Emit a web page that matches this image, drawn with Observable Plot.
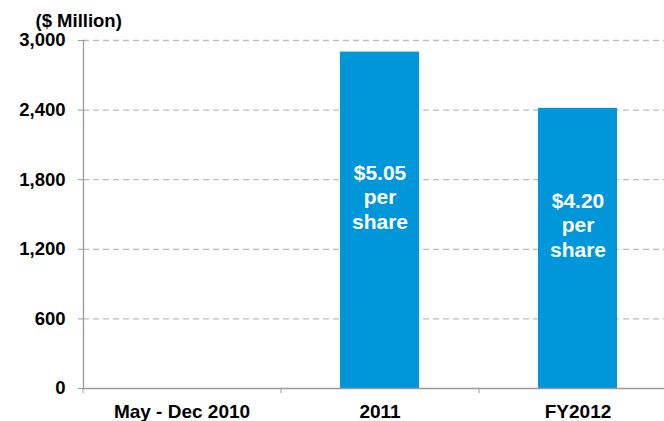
<!DOCTYPE html>
<html>
<head>
<meta charset="utf-8">
<script src="https://cdn.jsdelivr.net/npm/d3@7"></script>
<script src="https://cdn.jsdelivr.net/npm/@observablehq/plot@0.6"></script>
<style>
  html, body { margin: 0; padding: 0; background: #fff; }
  svg { font-family: "Liberation Sans", Arial, sans-serif; }
</style>
</head>
<body>
<div id="chart"></div>
<script>
const categories = ["May - Dec 2010", "2011", "FY2012"];
const values = [0, 2900, 2415];
const barLabels = ["", "$5.05\nper\nshare", "$4.20\nper\nshare"];
const yTicks = [0, 600, 1200, 1800, 2400, 3000];
const yTitle = "($ Million)";

const data = categories.map((c, i) => ({category: c, value: values[i], label: barLabels[i]}));
const barColor = "#0096DA";
const gray = "#9a9a9a";

const chart = Plot.plot({
  width: 664,
  height: 421,
  marginLeft: 83,
  marginRight: 0,
  marginTop: 40,
  marginBottom: 33,
  style: {fontFamily: "'Liberation Sans', Arial, sans-serif", background: "#fff"},
  x: {domain: categories, range: [83, 677], paddingInner: 0.6, paddingOuter: 0.3},
  y: {domain: [0, 3000]},
  marks: [
    Plot.ruleY(yTicks.filter(d => d > 0), {stroke: "#bdbdbd", strokeWidth: 1.3, strokeDasharray: "6,4"}),
    Plot.barY(data.filter(d => d.value > 0), {x: "category", y: "value", fill: barColor}),
    Plot.text(data.filter(d => d.value > 0), {
      x: "category", y: d => d.value / 2, text: "label", dy: -24,
      fill: "white", fontWeight: "bold", fontSize: 21, lineHeight: 1.17, lineAnchor: "middle"
    }),
    Plot.ruleY([0], {stroke: gray, strokeWidth: 1.3}),
    Plot.frame({anchor: "left", stroke: gray, strokeWidth: 1.3}),
    Plot.axisY({
      ticks: yTicks, tickSize: 5, tickPadding: 13, tickFormat: d3.format(","),
      stroke: gray, fill: "black", fontWeight: "bold", fontSize: 18.5, label: null
    }),
    Plot.axisX({tickSize: 0, tickPadding: 16, fill: "black", fontWeight: "bold", fontSize: 19, label: null}),
    Plot.axisX({tickSize: 5, dx: -99, tickFormat: () => "", stroke: gray, label: null}),
    Plot.text([yTitle], {
      frameAnchor: "top-left", dx: -48, dy: -14, textAnchor: "start", lineAnchor: "bottom",
      fill: "black", fontWeight: "bold", fontSize: 18.5
    })
  ]
});
document.getElementById("chart").appendChild(chart);
</script>
</body>
</html>
